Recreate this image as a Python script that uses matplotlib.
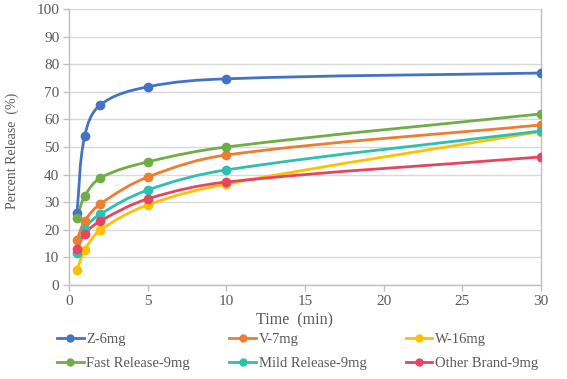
import matplotlib
matplotlib.use("Agg")
import matplotlib.pyplot as plt
from matplotlib.path import Path
from matplotlib.patches import PathPatch
from matplotlib.lines import Line2D
import numpy as np

time_min = [0.5, 1, 2, 5, 10, 30]
z_6mg = [26.0, 54.0, 65.3, 71.8, 74.7, 76.8]
v_7mg = [16.3, 23.2, 29.4, 39.1, 47.1, 58.0]
w_16mg = [5.4, 12.7, 19.9, 29.0, 36.6, 55.6]
fast_release_9mg = [24.3, 32.2, 38.8, 44.6, 50.0, 62.0]
mild_release_9mg = [11.6, 20.3, 25.7, 34.4, 41.7, 55.8]
other_brand_9mg = [13.0, 18.5, 23.2, 31.2, 37.3, 46.4]

series_names = ["Z-6mg", "V-7mg", "W-16mg", "Fast Release-9mg", "Mild Release-9mg", "Other Brand-9mg"]
series_values = [z_6mg, v_7mg, w_16mg, fast_release_9mg, mild_release_9mg, other_brand_9mg]
colors = ["#4472C4", "#ED7D31", "#FFC000", "#70AD47", "#2EBFB0", "#E6455F"]

x_ticks = [0, 5, 10, 15, 20, 25, 30]
y_ticks = [0, 10, 20, 30, 40, 50, 60, 70, 80, 90, 100]

SERIF = ["Liberation Serif", "DejaVu Serif"]
TXT = "#595959"
GRID = "#D9D9D9"
AXC = "#BFBFBF"

W, H = 567, 379
fig = plt.figure(figsize=(W / 100, H / 100), dpi=100)
ax = fig.add_axes([69 / W, 1 - 285 / H, (541 - 69) / W, (285 - 9) / H])

# pixel scale of the axes (for screen-space smoothing)
SX = (541 - 69) / 30.0
SY = (285 - 9) / 100.0


def smooth_path(xs, ys, k=0.35):
    pts = np.column_stack([np.asarray(xs, float) * SX, np.asarray(ys, float) * SY])
    n = len(pts)
    tang = []
    for i in range(n):
        a = pts[max(i - 1, 0)]
        b = pts[min(i + 1, n - 1)]
        d = b - a
        tang.append(d / np.hypot(*d))
    verts = [pts[0]]
    codes = [Path.MOVETO]
    for i in range(n - 1):
        p1, p2 = pts[i], pts[i + 1]
        L = np.hypot(*(p2 - p1))
        c1 = p1 + tang[i] * L * k
        c2 = p2 - tang[i + 1] * L * k
        verts += [c1, c2, p2]
        codes += [Path.CURVE4] * 3
    verts = np.array(verts)
    verts[:, 0] /= SX
    verts[:, 1] /= SY
    return Path(verts, codes)


for name, vals, c in zip(series_names, series_values, colors):
    patch = PathPatch(smooth_path(time_min, vals), facecolor="none", edgecolor=c,
                      lw=2.0, zorder=3, capstyle="round", joinstyle="round")
    ax.add_patch(patch)
    ax.plot(time_min, vals, ls="none", marker="o", ms=6, color=c, zorder=4)

ax.set_xlim(0, 30)
ax.set_ylim(0, 100)
ax.set_xticks(x_ticks)
ax.set_yticks(y_ticks)
ax.grid(axis="y", color=GRID, lw=1.0)
ax.set_axisbelow(True)
for s in ["left", "bottom", "right"]:
    ax.spines[s].set_color(AXC)
    ax.spines[s].set_linewidth(1.0)
ax.spines["top"].set_visible(False)
ax.tick_params(axis="both", colors=AXC, labelcolor=TXT, length=4, width=1.0, direction="out")
ax.tick_params(axis="y", pad=3)
ax.tick_params(axis="x", pad=3)
for lab in ax.get_xticklabels() + ax.get_yticklabels():
    lab.set_family(SERIF)
    lab.set_fontsize(11)

fig.text(12 / W, 1 - 151 / H, "Percent Release  (%)", rotation=90, ha="center", va="center",
         family=SERIF, fontsize=10, color=TXT)
fig.text(294 / W, 1 - 320 / H, "Time  (min)", ha="center", va="center",
         family=SERIF, fontsize=11.5, color=TXT)

# legend filled row by row (matplotlib fills columns first)
order = [0, 3, 1, 4, 2, 5]
handles = [Line2D([], [], color=colors[i], lw=2.0, marker="o", ms=5) for i in order]
labels = [series_names[i] for i in order]
leg = fig.legend(handles, labels, loc="center left", bbox_to_anchor=(50 / W, 1 - 351.5 / H),
                 ncol=3, frameon=False, handlelength=1.8, handletextpad=0.2, columnspacing=2.7,
                 labelspacing=0.75, borderpad=0.0, prop={"family": SERIF, "size": 10.5})
for t in leg.get_texts():
    t.set_color(TXT)

fig.savefig("out.png", dpi=100)
